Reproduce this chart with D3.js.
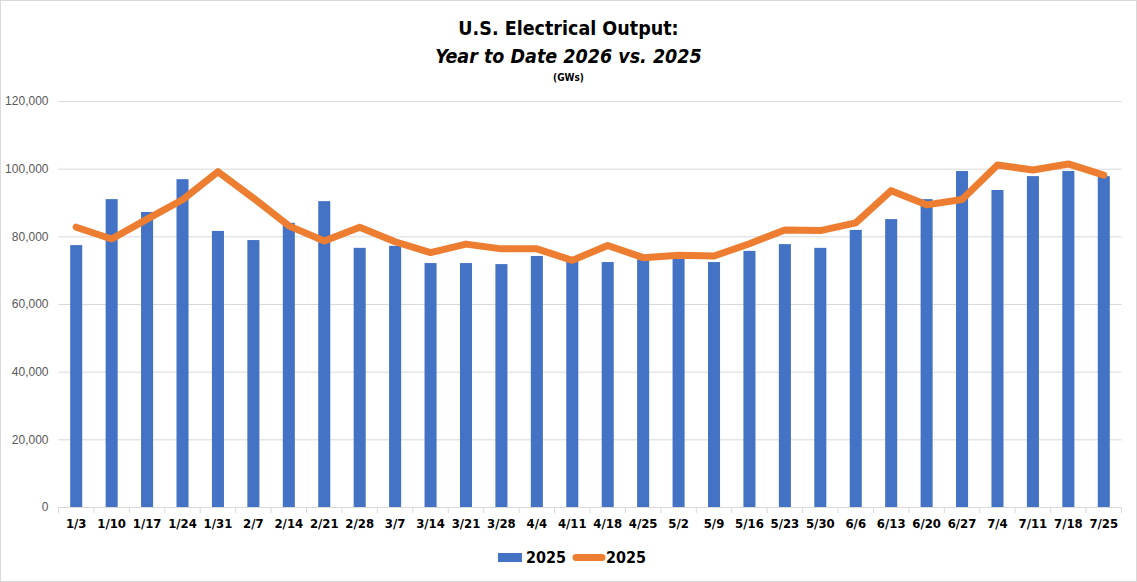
<html>

<head>
    <title>US Electrical Output</title>
    <script src='https://d3js.org/d3.v7.min.js'></script>
    <style>
        body { margin: 0; background: #fff; }
        text { font-family: "Liberation Sans Narrow", "Arial Narrow", "DejaVu Sans Condensed", sans-serif; }
    </style>
</head>

<body>
    <svg id="chart"></svg>
    <script>
        // week labels
        var weeks = ["1/3", "1/10", "1/17", "1/24", "1/31", "2/7", "2/14", "2/21", "2/28", "3/7",
            "3/14", "3/21", "3/28", "4/4", "4/11", "4/18", "4/25", "5/2", "5/9", "5/16",
            "5/23", "5/30", "6/6", "6/13", "6/20", "6/27", "7/4", "7/11", "7/18", "7/25"];
        // bar series (labelled 2025)
        var barValues = [77400, 91000, 87200, 96900, 81600, 78900, 84000, 90400, 76600, 77200,
            72100, 72100, 71800, 74200, 73000, 72400, 73200, 73400, 72400, 75700,
            77700, 76600, 81900, 85100, 91000, 99300, 93700, 97800, 99300, 97800];
        // line series (also labelled 2025)
        var lineValues = [82700, 79200, 85100, 90800, 99100, 91300, 83100, 78600, 82700, 78400,
            75200, 77700, 76300, 76300, 72900, 77300, 73700, 74400, 74200, 77800,
            81900, 81700, 84000, 93500, 89300, 90900, 101100, 99600, 101400, 98100];
        var yTicks = [0, 20000, 40000, 60000, 80000, 100000, 120000];

        var width = 1137, height = 582;
        var svg = d3.select("#chart").attr("width", width).attr("height", height);

        svg.append("rect")
            .attr("x", 0.5).attr("y", 0.5)
            .attr("width", width - 1).attr("height", height - 1)
            .attr("fill", "#fff").attr("stroke", "#d9d9d9");

        var x = d3.scaleBand().domain(weeks).range([58.5, 1121.5]).padding(0);
        var y = d3.scaleLinear().domain([0, 120000]).range([507, 101]);

        // gridlines + y labels
        var yAxis = svg.append("g")
            .attr("transform", "translate(58.5,0)")
            .call(d3.axisLeft(y).tickValues(yTicks).tickSize(-1063).tickPadding(10)
                .tickFormat(d3.format(",")));
        yAxis.select(".domain").remove();
        yAxis.selectAll("line").attr("stroke", "#d9d9d9");
        yAxis.selectAll("text").attr("fill", "#595959").attr("font-size", 12)
            .style("font-family", "Liberation Sans, Arial, sans-serif");

        // x axis with ticks between categories
        var xAxis = svg.append("g")
            .attr("transform", "translate(0,507)")
            .call(d3.axisBottom(x).tickSize(0).tickPadding(12));
        xAxis.select(".domain").attr("stroke", "#d9d9d9");
        xAxis.selectAll("text").attr("fill", "#000").attr("font-size", 13)
            .attr("font-weight", "bold");
        xAxis.selectAll(".sep")
            .data(d3.range(weeks.length + 1))
            .enter()
            .append("line")
            .attr("x1", function (i) { return 58.5 + i * x.step(); })
            .attr("x2", function (i) { return 58.5 + i * x.step(); })
            .attr("y1", 0).attr("y2", 6)
            .attr("stroke", "#d9d9d9");

        // bars
        var barW = x.bandwidth() * 0.34;
        svg.append("g")
            .selectAll("rect")
            .data(barValues)
            .enter()
            .append("rect")
            .attr("x", function (d, i) { return x(weeks[i]) + (x.bandwidth() - barW) / 2; })
            .attr("y", function (d) { return y(d); })
            .attr("width", barW)
            .attr("height", function (d) { return y(0) - y(d); })
            .attr("fill", "#4472c4");

        // line
        var line = d3.line()
            .x(function (d, i) { return x(weeks[i]) + x.bandwidth() / 2; })
            .y(function (d) { return y(d); });
        svg.append("path")
            .datum(lineValues)
            .attr("d", line)
            .attr("fill", "none")
            .attr("stroke", "#ed7d31")
            .attr("stroke-width", 7)
            .attr("stroke-linejoin", "round")
            .attr("stroke-linecap", "round");

        // titles
        svg.append("text").attr("x", 568.5).attr("y", 35)
            .attr("text-anchor", "middle").attr("font-size", 19.5).attr("font-weight", "bold")
            .text("U.S. Electrical Output:");
        svg.append("text").attr("x", 568.5).attr("y", 63)
            .attr("text-anchor", "middle").attr("font-size", 19.5).attr("font-weight", "bold")
            .attr("font-style", "italic")
            .text("Year to Date 2026 vs. 2025");
        svg.append("text").attr("x", 568.5).attr("y", 81)
            .attr("text-anchor", "middle").attr("font-size", 10).attr("font-weight", "bold")
            .text("(GWs)");

        // legend
        var legend = svg.append("g");
        legend.append("rect").attr("x", 498).attr("y", 553).attr("width", 24).attr("height", 9)
            .attr("fill", "#4472c4");
        legend.append("text").attr("x", 526).attr("y", 562.5)
            .attr("font-size", 16).attr("font-weight", "bold").text("2025");
        legend.append("line").attr("x1", 576).attr("x2", 602).attr("y1", 557.5).attr("y2", 557.5)
            .attr("stroke", "#ed7d31").attr("stroke-width", 7).attr("stroke-linecap", "round");
        legend.append("text").attr("x", 606).attr("y", 562.5)
            .attr("font-size", 16).attr("font-weight", "bold").text("2025");
    </script>
</body>

</html>
